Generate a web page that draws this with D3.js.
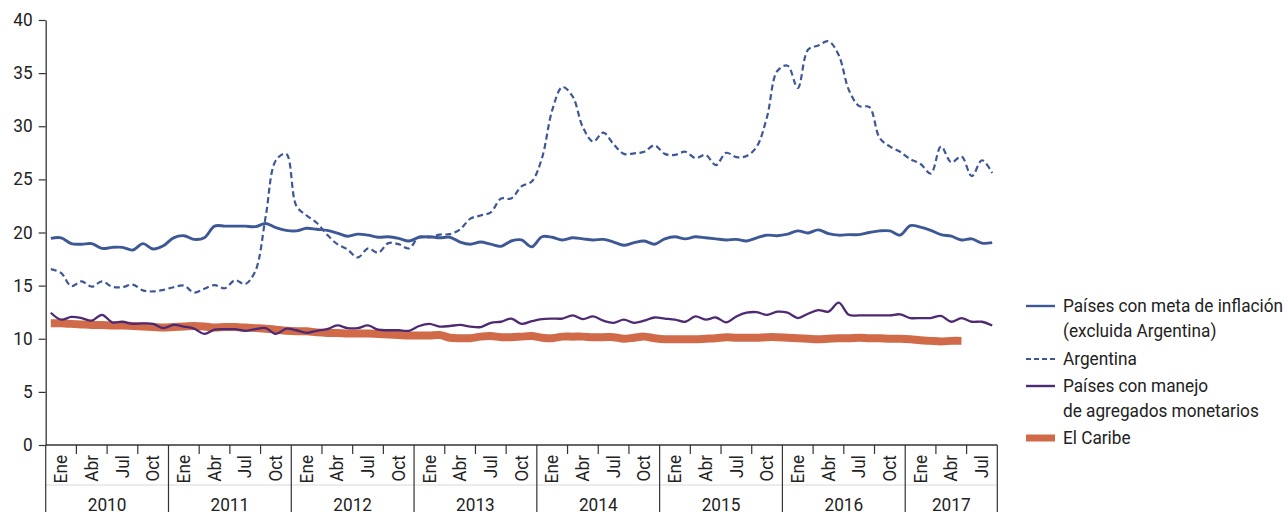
<!DOCTYPE html>
<html>
<head>
<meta charset="utf-8">
<script src="https://cdn.jsdelivr.net/npm/d3@7"></script>
<style>
  html, body { margin: 0; padding: 0; background: #fff; }
  svg { display: block; }
  text { font-family: "Roboto", "Liberation Sans", sans-serif; fill: #222; }
</style>
</head>
<body>
<svg id="chart" width="1288" height="512"></svg>
<script>
// ---------- DATA ----------
const years = [2010, 2011, 2012, 2013, 2014, 2015, 2016, 2017];
const quarterLabels = ["Ene", "Abr", "Jul", "Oct"];
const monthsInLastYear = 9;
const yTicks = [0, 5, 10, 15, 20, 25, 30, 35, 40];

const seriesNames = [
  ["Países con meta de inflación", "(excluida Argentina)"],
  ["Argentina"],
  ["Países con manejo", "de agregados monetarios"],
  ["El Caribe"]
];

// Países con meta de inflación (excluida Argentina), monthly Jan 2010 - Sep 2017
const metaInflacion = [
  19.45, 19.5, 18.95, 18.9, 18.95, 18.5, 18.6, 18.6, 18.35, 18.95, 18.45, 18.75,
  19.5, 19.7, 19.35, 19.5, 20.6, 20.6, 20.6, 20.6, 20.55, 20.85, 20.45, 20.2,
  20.15, 20.4, 20.3, 20.2, 19.95, 19.65, 19.85, 19.75, 19.55, 19.6, 19.45, 19.2,
  19.55, 19.6, 19.5, 19.55, 19.1, 18.9, 19.1, 18.9, 18.7, 19.2, 19.3, 18.65,
  19.6, 19.55, 19.3, 19.5, 19.4, 19.3, 19.35, 19.1, 18.8, 19.05, 19.2, 18.9,
  19.4, 19.6, 19.4, 19.6, 19.5, 19.4, 19.3, 19.35, 19.2, 19.5, 19.75, 19.7,
  19.85, 20.15, 19.95, 20.25, 19.9, 19.75, 19.8, 19.8, 20.0, 20.15, 20.15, 19.75,
  20.65, 20.5, 20.2, 19.8, 19.65, 19.3, 19.4, 19.0, 19.05
];

const argentina = [
  16.55, 16.2, 14.95, 15.4, 14.9, 15.4, 14.9, 14.85, 15.1, 14.55, 14.45, 14.6,
  14.85, 15.0, 14.35, 14.7, 15.05, 14.75, 15.5, 15.15, 16.4, 21.5, 26.8, 27.4,
  22.5, 21.6, 20.9, 19.8, 18.9, 18.4, 17.65, 18.5, 18.1, 19.0, 18.9, 18.5,
  19.6, 19.55, 19.8, 19.85, 20.3, 21.3, 21.6, 21.9, 23.2, 23.2, 24.35, 24.8,
  27.0, 31.5, 33.7, 32.8, 29.9, 28.55, 29.4, 28.3, 27.4, 27.45, 27.6, 28.2,
  27.4, 27.3, 27.6, 27.0, 27.3, 26.35, 27.5, 27.1, 27.2, 28.1, 30.9, 35.2,
  35.7, 33.6, 37.2, 37.6, 38.0, 36.7, 33.4, 31.9, 31.8, 28.9, 28.1, 27.6,
  26.9, 26.45, 25.55, 28.1, 26.6, 27.15, 25.3, 26.8, 25.6
];

const agregadosMonetarios = [
  12.45, 11.8, 12.05, 11.95, 11.7, 12.25, 11.55, 11.6, 11.4, 11.45, 11.4, 11.0,
  11.3, 11.15, 10.95, 10.45, 10.85, 10.9, 10.9, 10.75, 10.9, 11.0, 10.45, 10.95,
  10.8, 10.55, 10.75, 10.9, 11.25, 11.0, 11.0, 11.25, 10.85, 10.8, 10.8, 10.75,
  11.2, 11.4, 11.15, 11.2, 11.3, 11.15, 11.1, 11.5, 11.6, 11.9, 11.4, 11.65,
  11.85, 11.9, 11.9, 12.2, 11.85, 12.1, 11.7, 11.5, 11.8, 11.5, 11.7, 12.0,
  11.9, 11.8, 11.6, 12.1, 11.8, 12.0, 11.55, 12.1, 12.45, 12.5, 12.25, 12.55,
  12.45, 11.95, 12.35, 12.7, 12.55, 13.4, 12.25, 12.2, 12.2, 12.2, 12.2, 12.3,
  11.95, 11.95, 11.95, 12.15, 11.6, 11.95, 11.6, 11.6, 11.25
];

// El Caribe, Jan 2010 - Jun 2017
const elCaribe = [
  11.45, 11.45, 11.4, 11.35, 11.3, 11.3, 11.25, 11.25, 11.2, 11.15, 11.1, 11.05,
  11.1, 11.15, 11.2, 11.15, 11.05, 11.1, 11.1, 11.05, 11.0, 10.95, 10.85, 10.75,
  10.7, 10.7, 10.6, 10.55, 10.55, 10.5, 10.5, 10.5, 10.45, 10.4, 10.35, 10.3,
  10.3, 10.3, 10.35, 10.1, 10.05, 10.05, 10.2, 10.25, 10.15, 10.15, 10.2, 10.25,
  10.1, 10.05, 10.2, 10.2, 10.2, 10.15, 10.15, 10.15, 10.0, 10.1, 10.2, 10.05,
  9.95, 9.95, 9.95, 9.95, 10.0, 10.05, 10.15, 10.1, 10.1, 10.1, 10.15, 10.15,
  10.1, 10.05, 10.0, 9.95, 10.0, 10.05, 10.05, 10.1, 10.05, 10.05, 10.0, 10.0,
  9.95, 9.85, 9.8, 9.75, 9.8, 9.8
];

// ---------- LAYOUT ----------
const colors = { blue: "#3e5896", purple: "#4e2a72", orange: "#d06a48", axis: "#333" };
const fontSize = "17.5px";
const svg = d3.select("#chart");
const plotLeft = 45.7, plotRight = 997.3, plotTop = 20, plotBottom = 445;
const nMonths = (years.length - 1) * 12 + monthsInLastYear;

const x = d3.scaleBand().domain(d3.range(nMonths)).range([plotLeft, plotRight]).padding(0);
const xc = i => x(i) + x.bandwidth() / 2;
const y = d3.scaleLinear().domain([0, 40]).range([plotBottom, plotTop]);

// Y axis
const yAxis = d3.axisLeft(y).tickValues(yTicks).tickSize(7).tickSizeOuter(0).tickPadding(6);
const gy = svg.append("g").attr("transform", `translate(${plotLeft},0)`).call(yAxis);
gy.attr("font-family", null).attr("font-size", null);
gy.select(".domain").attr("stroke", colors.axis).attr("stroke-width", 1.3);
gy.selectAll(".tick line").attr("stroke", colors.axis).attr("stroke-width", 1.2);
gy.selectAll(".tick text").style("font-size", fontSize).attr("fill", "#222");

// X axis (multi-level)
const gx = svg.append("g");
gx.append("line").attr("x1", plotLeft).attr("x2", plotRight).attr("y1", plotBottom).attr("y2", plotBottom)
  .attr("stroke", colors.axis).attr("stroke-width", 1.3);
gx.append("line").attr("x1", plotLeft).attr("x2", plotRight).attr("y1", 485).attr("y2", 485)
  .attr("stroke", "#d8d8d8").attr("stroke-width", 1);

years.forEach((yr, yi) => {
  const start = yi * 12;
  const len = yi === years.length - 1 ? monthsInLastYear : 12;
  const x0 = x(start);
  const x1 = x(start + len - 1) + x.bandwidth();
  gx.append("line").attr("x1", x0).attr("x2", x0).attr("y1", plotBottom).attr("y2", 512)
    .attr("stroke", colors.axis).attr("stroke-width", 1.2);
  if (yi === years.length - 1) {
    gx.append("line").attr("x1", x1).attr("x2", x1).attr("y1", plotBottom).attr("y2", 512)
      .attr("stroke", colors.axis).attr("stroke-width", 1.2);
  }
  gx.append("text").attr("x", (x0 + x1) / 2).attr("y", 510.5).attr("text-anchor", "middle")
    .style("font-size", fontSize).text(yr);
  const nq = Math.ceil(len / 3);
  for (let q = 0; q < nq; q++) {
    const mid = start + q * 3 + 1;
    gx.append("text")
      .attr("transform", `translate(${xc(mid)},455) rotate(-90)`)
      .attr("text-anchor", "end").attr("dy", "0.35em")
      .style("font-size", fontSize).text(quarterLabels[q]);
    if (q > 0) {
      const tx = x(start + q * 3);
      gx.append("line").attr("x1", tx).attr("x2", tx).attr("y1", plotBottom).attr("y2", plotBottom + 9)
        .attr("stroke", colors.axis).attr("stroke-width", 1.2);
    }
  }
});

// Lines
const line = d3.line().x((d, i) => xc(i)).y(d => y(d)).curve(d3.curveCatmullRom.alpha(0.5));
const plot = svg.append("g");
plot.append("path").datum(elCaribe).attr("d", line).attr("fill", "none")
  .attr("stroke", colors.orange).attr("stroke-width", 8);
plot.append("path").datum(agregadosMonetarios).attr("d", line).attr("fill", "none")
  .attr("stroke", colors.purple).attr("stroke-width", 2.3).attr("stroke-linejoin", "round");
plot.append("path").datum(argentina).attr("d", line).attr("fill", "none")
  .attr("stroke", colors.blue).attr("stroke-width", 2.2).attr("stroke-dasharray", "6,3.5");
plot.append("path").datum(metaInflacion).attr("d", line).attr("fill", "none")
  .attr("stroke", colors.blue).attr("stroke-width", 2.9).attr("stroke-linejoin", "round");

// Legend
const legendItems = [
  { lines: seriesNames[0], y: 306, color: colors.blue, w: 2.4, dash: null },
  { lines: seriesNames[1], y: 359, color: colors.blue, w: 1.8, dash: "5,3" },
  { lines: seriesNames[2], y: 386, color: colors.purple, w: 2.4, dash: null },
  { lines: seriesNames[3], y: 438, color: colors.orange, w: 7, dash: null }
];
const lg = svg.append("g");
let firstLegendText = null;
legendItems.forEach(it => {
  lg.append("line").attr("x1", 1026).attr("x2", 1055).attr("y1", it.y).attr("y2", it.y)
    .attr("stroke", it.color).attr("stroke-width", it.w)
    .attr("stroke-dasharray", it.dash);
  it.lines.forEach((t, k) => {
    const tn = lg.append("text").attr("x", 1063).attr("y", it.y + k * 24.5).attr("dy", "0.35em")
      .style("font-size", fontSize).text(t);
    if (!firstLegendText) firstLegendText = tn.node();
  });
});

// Condensed look: compress glyph widths uniformly (reference uses a condensed typeface)
const condense = Math.min(1, 220 / firstLegendText.getComputedTextLength());
svg.selectAll("text").each(function () {
  const L = this.getComputedTextLength();
  this.setAttribute("textLength", (L * condense).toFixed(2));
  this.setAttribute("lengthAdjust", "spacingAndGlyphs");
});
</script>
</body>
</html>
